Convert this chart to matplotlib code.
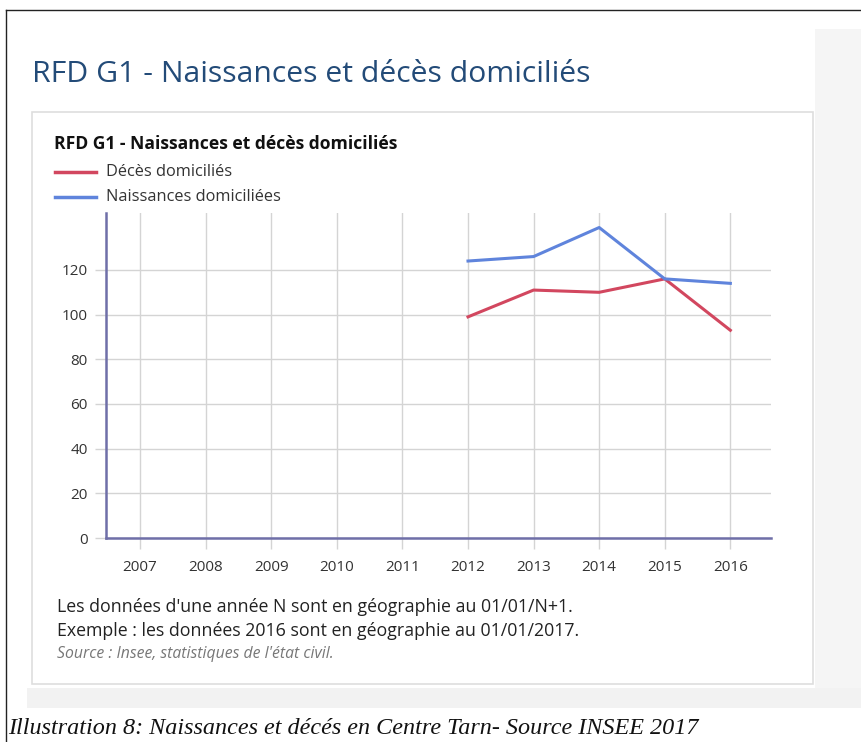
import matplotlib.pyplot as plt
from matplotlib.patches import Rectangle
from matplotlib.lines import Line2D

W, H = 862, 742

years = [2007, 2008, 2009, 2010, 2011, 2012, 2013, 2014, 2015, 2016]
data_years = [2012, 2013, 2014, 2015, 2016]
deces = [99, 111, 110, 116, 93]
naissances = [124, 126, 139, 116, 114]
yticks = [0, 20, 40, 60, 80, 100, 120]

RED = '#d2475f'
BLUE = '#5f84dc'
AXIS = '#6f6fa8'
GRID = '#d4d4d4'

plt.rcParams['font.family'] = ['Open Sans', 'DejaVu Sans']


def fx(px):
    return px / W


def fy(py):
    return 1 - py / H


fig = plt.figure(figsize=(W / 100, H / 100), dpi=100)

# page decoration
fig.add_artist(Line2D([fx(6), fx(W)], [fy(10), fy(10)], color='#222222', lw=1))
fig.add_artist(Line2D([fx(6), fx(6)], [fy(10), fy(H)], color='#222222', lw=1))
fig.add_artist(Rectangle((fx(815), fy(688)), fx(W - 815), (688 - 29) / H,
                         facecolor='#f5f5f5', edgecolor='none', zorder=-2))
fig.add_artist(Rectangle((fx(27), fy(708)), fx(W - 27), 20 / H,
                         facecolor='#f2f2f2', edgecolor='none', zorder=-2))
fig.add_artist(Rectangle((fx(32), fy(684)), fx(813 - 32), (684 - 112) / H,
                         facecolor='white', edgecolor='#dedede', lw=1.2, zorder=-1))

fig.text(fx(32), fy(74), 'RFD G1 - Naissances et décès domiciliés',
         fontsize=21.7, color='#234b78', va='center')
fig.text(fx(54), fy(144), 'RFD G1 - Naissances et décès domiciliés',
         fontsize=12.6, fontweight='bold', color='#111111', va='center')

# legend
for py, lab, c in [(172, 'Décès domiciliés', RED), (197, 'Naissances domiciliées', BLUE)]:
    fig.add_artist(Line2D([fx(55), fx(96)], [fy(py), fy(py)], color=c, lw=2.5))
    fig.text(fx(106), fy(py), lab, fontsize=11.8, color='#333333', va='center')

# chart
ax = fig.add_axes([fx(106), fy(538), fx(771 - 106), (538 - 213) / H])
ax.set_zorder(5)
ax.patch.set_alpha(0)
ax.plot(data_years, deces, color=RED, lw=2.2)
ax.plot(data_years, naissances, color=BLUE, lw=2.2)

ax.set_xlim(2006.48, 2016.62)
ax.set_ylim(0, 145.5)
ax.set_xticks(years)
ax.set_yticks(yticks)
ax.grid(True, color=GRID, lw=1)
ax.set_axisbelow(True)
for s in ['top', 'right']:
    ax.spines[s].set_visible(False)
for s in ['left', 'bottom']:
    ax.spines[s].set_color(AXIS)
    ax.spines[s].set_linewidth(1.8)
ax.tick_params(axis='both', length=8, width=1, color=GRID, labelsize=11,
               labelcolor='#333333', pad=8)
ax.tick_params(axis='y', pad=5)

# notes
fig.text(fx(57), fy(607), "Les données d'une année N sont en géographie au 01/01/N+1.",
         fontsize=12.8, color='#222222', va='center')
fig.text(fx(57), fy(631), 'Exemple : les données 2016 sont en géographie au 01/01/2017.',
         fontsize=12.8, color='#222222', va='center')
fig.text(fx(57), fy(654), "Source : Insee, statistiques de l'état civil.",
         fontsize=11.3, style='italic', color='#777777', va='center')

fig.text(fx(8), fy(728), 'Illustration 8: Naissances et décés en Centre Tarn- Source INSEE 2017',
         fontsize=17.4, style='italic', family='Liberation Serif', color='#111111', va='center')

fig.savefig('out.png', dpi=100)
